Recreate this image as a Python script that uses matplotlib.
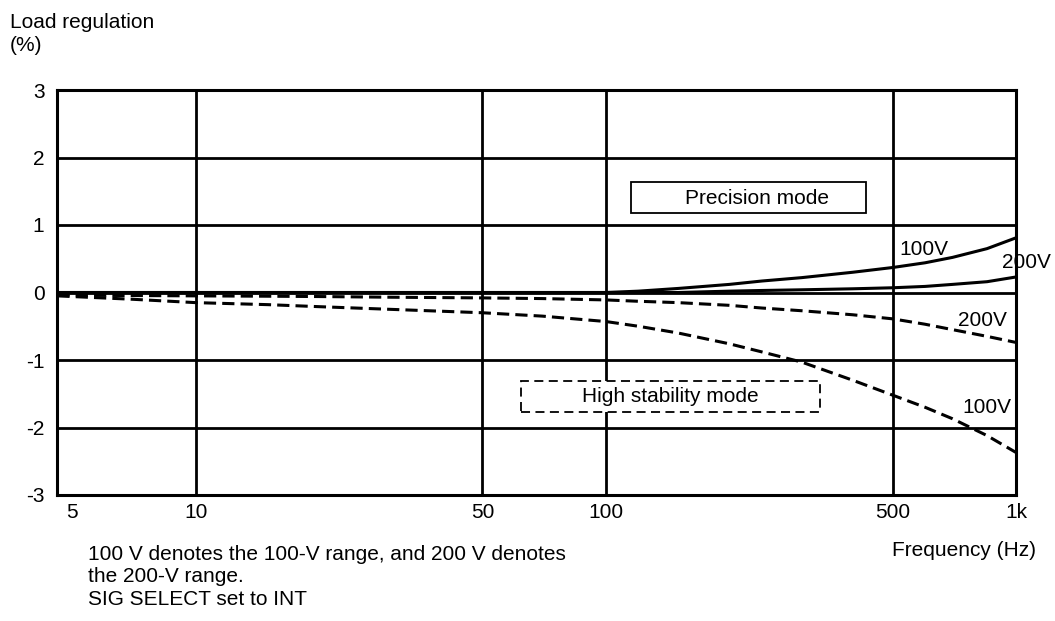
import numpy as np
import matplotlib
matplotlib.use("Agg")
import matplotlib.pyplot as plt
from matplotlib.patches import Rectangle

plt.rcParams['font.family'] = ['Liberation Sans', 'DejaVu Sans']

# Frequency (Hz) and load regulation (%)
freq = [4.6, 5, 7, 10, 15, 20, 30, 50, 70, 100, 120, 150, 200, 240, 300, 400, 500, 600, 700, 850, 1000]
prec_100v = [0, 0, 0, 0, 0, 0, 0, 0, 0, 0, 0.02, 0.06, 0.12, 0.17, 0.22, 0.30, 0.37, 0.44, 0.52, 0.65, 0.81]
prec_200v = [0, 0, 0, 0, 0, 0, 0, 0, 0, 0, 0, 0, 0.02, 0.03, 0.04, 0.055, 0.07, 0.09, 0.12, 0.16, 0.23]
hs_200v = [-0.03, -0.04, -0.045, -0.05, -0.055, -0.06, -0.07, -0.08, -0.09, -0.11, -0.13, -0.15,
           -0.19, -0.23, -0.27, -0.33, -0.39, -0.47, -0.55, -0.65, -0.74]
hs_100v = [-0.05, -0.06, -0.10, -0.15, -0.18, -0.21, -0.25, -0.30, -0.35, -0.43, -0.50, -0.60,
           -0.76, -0.88, -1.03, -1.30, -1.52, -1.70, -1.87, -2.12, -2.37]

xticks = [5, 10, 50, 100, 500, 1000]
xlabels = ["5", "10", "50", "100", "500", "1k"]
yticks = [-3, -2, -1, 0, 1, 2, 3]

fs = 15

fig = plt.figure(figsize=(10.55, 6.21), dpi=100)
ax = fig.add_axes([57/1055, 1-495/621, (1016-57)/1055, (495-90)/621])

ax.set_xscale("log")
ax.set_xlim(4.59, 1000)
ax.set_ylim(-3, 3)

# grid
for x in [10, 50, 100, 500]:
    ax.axvline(x, color="black", lw=2.0, zorder=1)
for y in yticks:
    ax.axhline(y, color="black", lw=2.0, zorder=1)

dash = (0, (4, 2))
ax.plot(freq, prec_100v, color="black", lw=2.2, zorder=3)
ax.plot(freq, prec_200v, color="black", lw=2.2, zorder=3)
ax.plot(freq, hs_200v, color="black", lw=2.2, ls=dash, zorder=3)
ax.plot(freq, hs_100v, color="black", lw=2.2, ls=dash, zorder=3)

for s in ax.spines.values():
    s.set_linewidth(2.2)

ax.set_xticks(xticks)
ax.set_xticklabels(xlabels)
ax.xaxis.set_minor_locator(matplotlib.ticker.NullLocator())
ax.set_yticks(yticks)
ax.set_yticklabels([str(v) for v in yticks])
ax.tick_params(axis="both", length=0, labelsize=fs)
ax.tick_params(axis="y", pad=9)
ax.tick_params(axis="x", pad=6)

# curve labels
ax.text(521, 0.64, "100V", fontsize=fs, va="center", ha="left")
ax.text(923, 0.44, "200V", fontsize=fs, va="center", ha="left", clip_on=False)
ax.text(722, -0.41, "200V", fontsize=fs, va="center", ha="left")
ax.text(738, -1.70, "100V", fontsize=fs, va="center", ha="left")

# mode boxes
ax.add_patch(Rectangle((115.2, 1.178), 430.7 - 115.2, 1.637 - 1.178,
                       fill=True, facecolor="white", edgecolor="black", lw=1.3, zorder=4))
ax.text(233.6, 1.40, "Precision mode", fontsize=fs, ha="center", va="center", zorder=5)
ax.add_patch(Rectangle((62.1, -1.770), 332.8 - 62.1, 1.770 - 1.311,
                       fill=True, facecolor="white", edgecolor="black", lw=1.3,
                       ls=(0, (5, 3)), zorder=4))
ax.text(143.3, -1.54, "High stability mode", fontsize=fs, ha="center", va="center", zorder=5)

fig.text(10/1055, 1-34/621, "Load regulation\n(%)", fontsize=fs, ha="left", va="center",
         linespacing=1.25)
fig.text(1036/1055, 1-550/621, "Frequency (Hz)", fontsize=fs, ha="right", va="center")
fig.text(88/1055, 1-577/621,
         "100 V denotes the 100-V range, and 200 V denotes\nthe 200-V range.\nSIG SELECT set to INT",
         fontsize=fs, ha="left", va="center", linespacing=1.25)

fig.savefig("out.png", dpi=100)
